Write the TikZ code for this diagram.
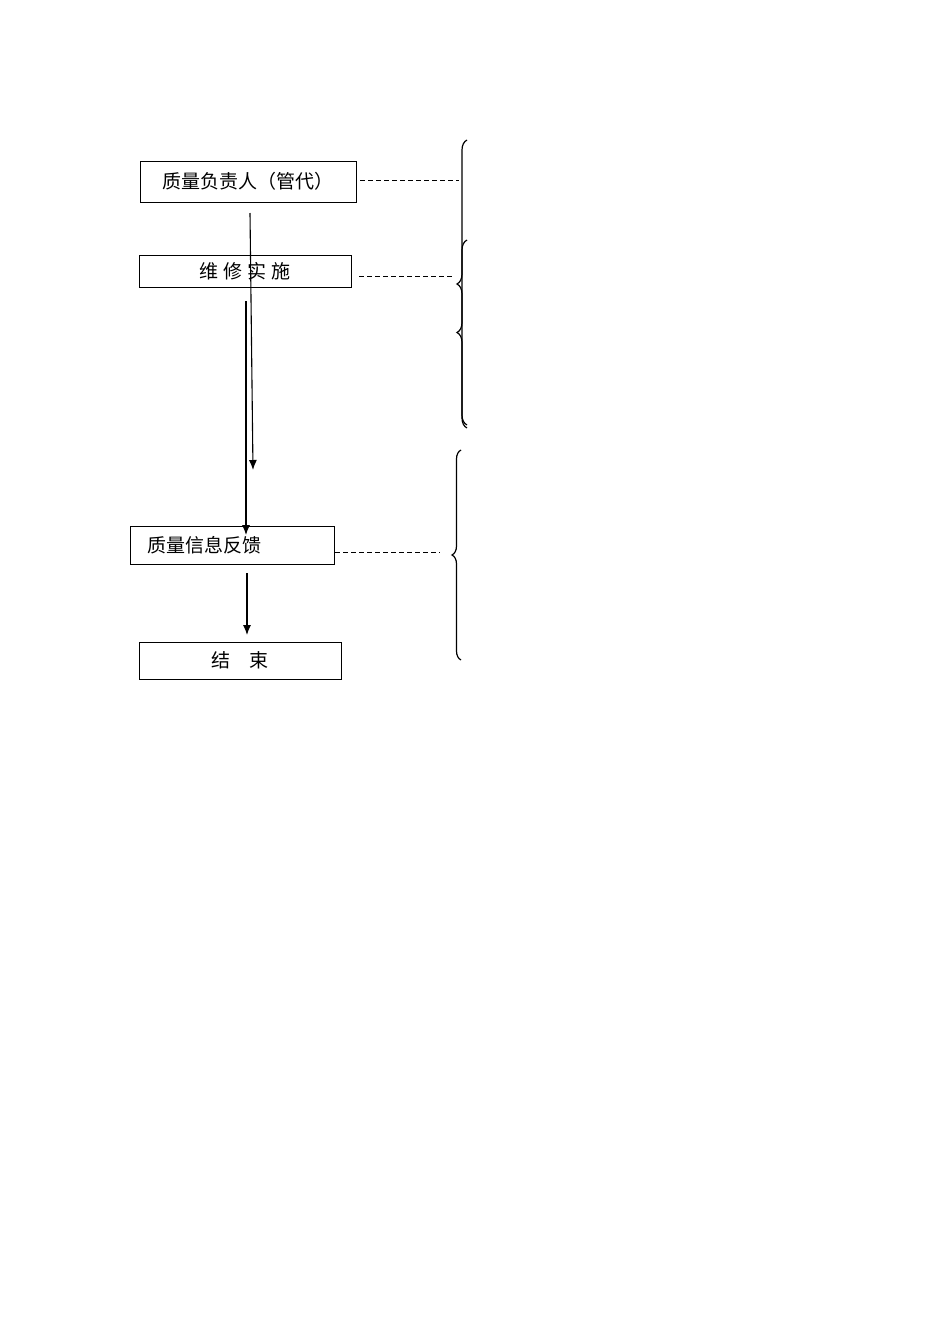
\documentclass[tikz,border=0pt]{standalone}
\usepackage{fontspec}
\newfontfamily\cjk{Noto Sans CJK SC}
\usetikzlibrary{arrows.meta,decorations.pathreplacing}
\begin{document}
\begin{tikzpicture}[x=1pt,y=-1pt,
  box/.style={draw, line width=0.95pt, inner sep=0pt, font=\cjk\fontsize{19}{21}\selectfont},
  flow/.style={line width=1.1pt, -{Latex[length=10pt,width=8pt]}},
  link/.style={line width=1pt, dash pattern=on 5pt off 3pt},
  brc/.style={decorate, decoration={brace, amplitude=10pt}, line width=1.2pt}]
\useasboundingbox (0,0) rectangle (950,1344);
% boxes
\node[box, minimum width=216pt, minimum height=41pt] (b1) at (248,181.5) {\raisebox{2pt}{质量负责人（管代）}};
\node[box, minimum width=212pt, minimum height=32pt] (b2) at (245,271) {维\hspace{5pt}修\hspace{5pt}实\hspace{5pt}施};
\node[box, text width=170pt, inner xsep=17pt, minimum height=38pt, align=left] (b3) at (232,545) {\raisebox{2pt}{质量信息反馈}};
\node[box, minimum width=202pt, minimum height=37pt] (b4) at (240,660.5) {结　束};
% arrows
\coordinate (a1s) at (250,213);
\coordinate (a1e) at (253,470);
\coordinate (a2s) at (246,301);
\coordinate (a2e) at (246,535);
\coordinate (a3s) at (247,573);
\coordinate (a3e) at (247,635);
\draw[flow] (a1s) -- (a1e);
\draw[flow] (a2s) -- (a2e);
\draw[flow] (a3s) -- (a3e);
% dashed links
\coordinate (d1s) at (360,180);
\coordinate (d1e) at (459,180);
\coordinate (d2s) at (359,276);
\coordinate (d2e) at (452,276);
\coordinate (d3s) at (335,552);
\coordinate (d3e) at (440,552);
\draw[link] (d1s) -- (d1e);
\draw[link] (d2s) -- (d2e);
\draw[link] (d3s) -- (d3e);
% braces
\coordinate (r1b) at (467,428);
\coordinate (r1t) at (467,140);
\coordinate (r2b) at (467,425);
\coordinate (r2t) at (467,240);
\coordinate (r3b) at (461,660);
\coordinate (r3t) at (461,450);
\draw[brc] (r1b) -- (r1t);
\draw[brc] (r2b) -- (r2t);
\draw[brc, decoration={brace, amplitude=9pt}] (r3b) -- (r3t);
\end{tikzpicture}
\end{document}
